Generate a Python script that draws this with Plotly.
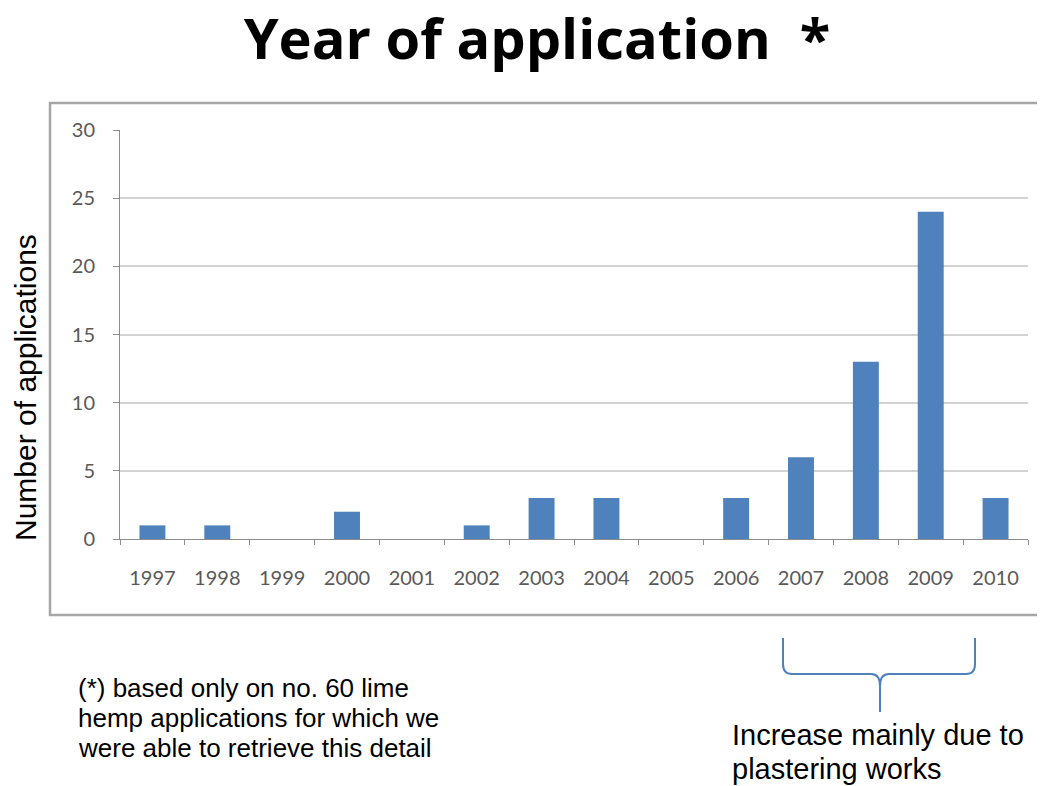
import plotly.graph_objects as go

years = ["1997", "1998", "1999", "2000", "2001", "2002", "2003", "2004",
         "2005", "2006", "2007", "2008", "2009", "2010"]
applications = [1, 1, 0, 2, 0, 1, 3, 3, 0, 3, 6, 13, 24, 3]
y_ticks = [0, 5, 10, 15, 20, 25, 30]

# the page body adds an 8px offset; work in target-picture pixels
OFF = 8
W, H = 1045 - OFF, 786 - OFF
PL, PR, PT, PB = 120, 1028, 130, 539  # plot area in target pixels
L, R, T, B = PL - OFF, W - (PR - OFF), PT - OFF, H - (PB - OFF)
PW, PH = PR - PL, PB - PT


def px(x):
    return (x - PL) / PW


def py(y):
    return (PB - y) / PH


fig = go.Figure()
fig.add_trace(go.Bar(x=years, y=applications, marker_color="#4f81bd",
                     marker_line_width=0, showlegend=False))

axis_font = dict(family="Lato, Carlito, sans-serif", size=20, color="#595959")
fig.update_layout(
    width=W, height=H,
    margin=dict(l=L, r=R, t=T, b=B),
    paper_bgcolor="white", plot_bgcolor="white",
    bargap=0.6,
    title=dict(text="Year of application  *", x=(537 - OFF) / W, xanchor="center",
               y=1 - (39 - OFF) / H, yanchor="middle",
               font=dict(family="Open Sans, sans-serif", size=56, color="black", weight="bold")),
    xaxis=dict(type="category", showgrid=False, showline=True, linecolor="#8c8c8c",
               linewidth=1, ticks="outside", tickson="boundaries", ticklen=5,
               tickcolor="#8c8c8c", tickfont=axis_font, ticklabelstandoff=21),
    yaxis=dict(range=[0, 30], tickvals=y_ticks, showgrid=True, gridcolor="#d3d3d3",
               gridwidth=1.5, showline=True, linecolor="#8c8c8c", linewidth=1,
               ticks="outside", ticklen=6, tickcolor="#8c8c8c", tickfont=axis_font,
               ticklabelstandoff=14, zeroline=False),
)

# outer chart box
fig.add_shape(type="rect", xref="paper", yref="paper",
              x0=px(50), x1=px(1060), y0=py(615), y1=py(103),
              line=dict(color="#a6a6a6", width=2.5), fillcolor="rgba(0,0,0,0)",
              layer="below")

# y axis title
fig.add_annotation(xref="paper", yref="paper", x=px(25), y=py(388), xanchor="center",
                   yanchor="middle", textangle=-90, showarrow=False,
                   text="Number of applications",
                   font=dict(family="Liberation Sans, Arial, sans-serif", size=30, color="black"))

# bracket
c = "#4f81bd"
path = (f"M {px(783)} {py(638)} L {px(783)} {py(664)} Q {px(783)} {py(674)} {px(792)} {py(674)} "
        f"L {px(871)} {py(674)} Q {px(880)} {py(674)} {px(880)} {py(686)} L {px(880)} {py(712)} "
        f"M {px(880)} {py(686)} Q {px(880)} {py(674)} {px(889)} {py(674)} "
        f"L {px(966)} {py(674)} Q {px(975)} {py(674)} {px(975)} {py(664)} L {px(975)} {py(638)}")
fig.add_shape(type="path", xref="paper", yref="paper", path=path,
              line=dict(color=c, width=2))

note_lines = ["(*) based only on no. 60 lime",
              "hemp applications for which we",
              "were able to retrieve this detail"]
for i, line in enumerate(note_lines):
    fig.add_annotation(xref="paper", yref="paper", x=px(76), y=py(688 + 30 * i),
                       xanchor="left", yanchor="middle", showarrow=False, text=line,
                       font=dict(family="Liberation Sans, Arial, sans-serif", size=26,
                                 color="black"))

bracket_lines = ["Increase mainly due to", "plastering works"]
for i, line in enumerate(bracket_lines):
    fig.add_annotation(xref="paper", yref="paper", x=px(730), y=py(735 + 34 * i),
                       xanchor="left", yanchor="middle", showarrow=False, text=line,
                       font=dict(family="Liberation Sans, Arial, sans-serif", size=29,
                                 color="black"))

fig.write_html("out.html")
